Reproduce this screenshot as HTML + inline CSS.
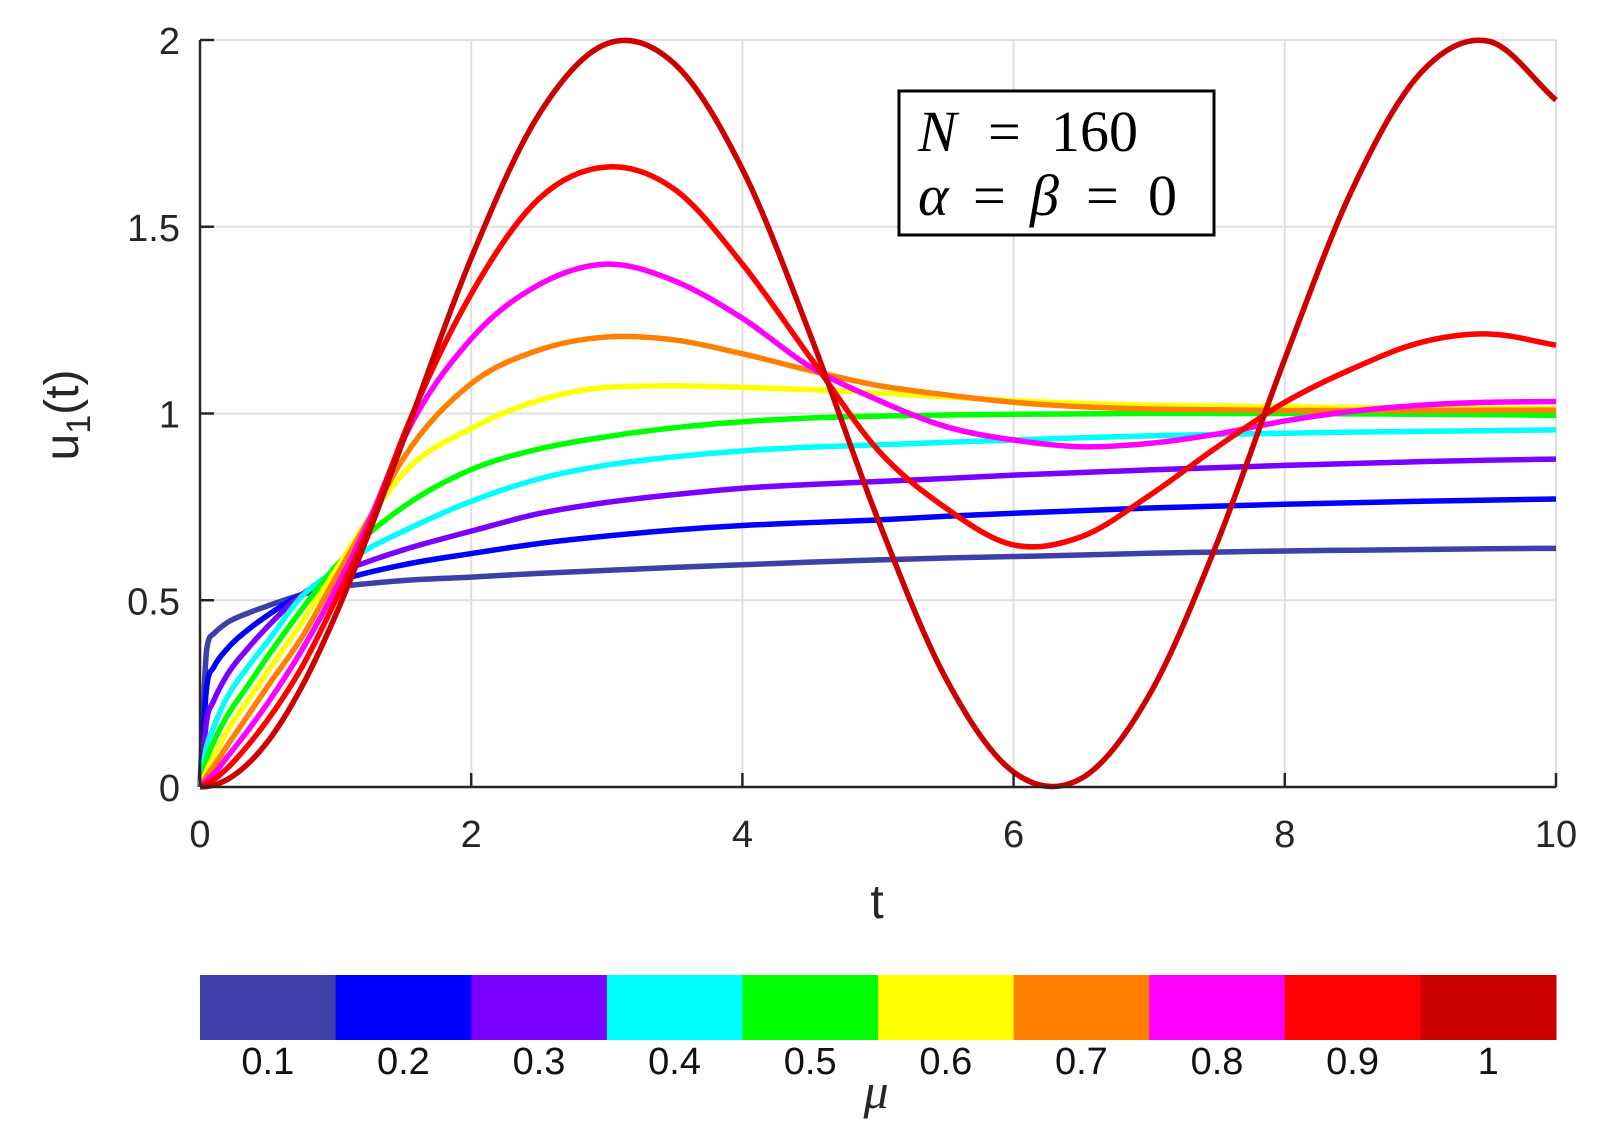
<!DOCTYPE html>
<html><head><meta charset="utf-8"><style>
html,body{margin:0;padding:0;background:#fff;}
svg{display:block;font-family:"Liberation Sans",sans-serif;}
</style></head><body>
<svg id="chart" width="1607" height="1138" viewBox="0 0 1607 1138" xmlns="http://www.w3.org/2000/svg">
<g id="grid"></g>
<g id="series"></g>
<g id="axes"></g>
<g font-family="Liberation Serif,serif" font-size="58">
<rect x="899" y="91" width="315" height="144" fill="#fff" stroke="#000" stroke-width="3"/>
<text y="151"><tspan x="918" font-style="italic">N</tspan><tspan x="988">=</tspan><tspan x="1051">160</tspan></text>
<text y="215"><tspan x="918" font-style="italic">α</tspan><tspan x="973">=</tspan><tspan x="1030" font-style="italic">β</tspan><tspan x="1086">=</tspan><tspan x="1148">0</tspan></text>
</g>
<text x="877" y="918" font-size="48" text-anchor="middle" fill="#262626">t</text>
<text transform="translate(78,415) rotate(-90)" font-size="48" text-anchor="middle" fill="#262626">u<tspan font-size="34" dy="12">1</tspan><tspan dy="-12">(t)</tspan></text>
<g id="colorbar"></g>
<text x="876" y="1108" font-family="Liberation Serif,serif" font-style="italic" font-size="50" text-anchor="middle" fill="#262626">μ</text>
</svg>
<script>
const tVals=[0,0.05,0.1,0.2,0.35,0.5,0.75,1,1.25,1.5,2,2.5,3,3.5,4,4.5,5,5.5,6,6.5,7,7.5,8,8.5,9,9.5,10];
const muLabels=["0.1","0.2","0.3","0.4","0.5","0.6","0.7","0.8","0.9","1"];
const colors=["#3d40a8","#0000ff","#7a00ff","#00ffff","#00ff00","#ffff00","#ff8000","#ff00ff","#ff0000","#cc0000"];
const s01=[0,.37,.41,.44,.465,.485,.515,.535,.545,.553,.562,.572,.58,.588,.595,.602,.608,.613,.617,.621,.626,.629,.632,.634,.636,.638,.639];
const s02=[0,.27,.32,.37,.42,.46,.515,.55,.575,.595,.625,.652,.672,.688,.70,.708,.715,.725,.733,.74,.747,.752,.757,.761,.765,.768,.771];
const s03=[0,.18,.23,.30,.37,.43,.515,.57,.605,.635,.685,.732,.762,.783,.80,.81,.818,.826,.835,.842,.849,.855,.861,.866,.871,.875,.878];
const s04=[0,.11,.16,.24,.32,.39,.51,.58,.64,.685,.765,.825,.862,.884,.90,.91,.916,.923,.929,.935,.94,.944,.947,.95,.952,.954,.956];
const s05=[0,.075,.12,.19,.27,.35,.475,.59,.68,.75,.85,.905,.938,.962,.978,.988,.993,.996,.998,.999,1,1,1,.999,.998,.997,.995];
const s06=[0,.045,.08,.15,.23,.31,.44,.58,.72,.84,.96,1.035,1.07,1.074,1.07,1.064,1.055,1.045,1.034,1.027,1.022,1.02,1.018,1.016,1.015,1.014,1.013];
const s07=[0,.03,.055,.11,.19,.27,.40,.56,.72,.88,1.08,1.17,1.205,1.197,1.16,1.115,1.075,1.05,1.03,1.018,1.012,1.01,1.008,1.008,1.008,1.009,1.009];
const s08=[0,.018,.035,.08,.15,.225,.366,.53,.715,.93,1.20,1.345,1.40,1.355,1.255,1.125,1.036,.965,.929,.911,.92,.945,.98,1.006,1.022,1.03,1.032];
const s09=[0,.01,.02,.05,.11,.18,.32,.50,.70,.94,1.32,1.575,1.66,1.60,1.40,1.15,.902,.747,.648,.67,.78,.91,1.03,1.12,1.19,1.213,1.183];
const s10=[0,.00125,.005,.02,.061,.122,.268,.46,.685,.929,1.416,1.801,1.99,1.936,1.654,1.211,.716,.291,.04,.023,.246,.653,1.146,1.602,1.911,1.997,1.839];
const allSeries=[s01,s02,s03,s04,s05,s06,s07,s08,s09,s10];
const xTicks=[0,2,4,6,8,10];
const yTicks=[0,0.5,1,1.5,2];
const yTickLabels=["0","0.5","1","1.5","2"];

const X0=200,X1=1556,Y0=787,Y1=40;
const sx=v=>X0+(v-0)/(10-0)*(X1-X0);
const sy=v=>Y0-(v-0)/(2-0)*(Y0-Y1);
const NS="http://www.w3.org/2000/svg";
function mk(tag,attrs,parent){const e=document.createElementNS(NS,tag);for(const k in attrs)e.setAttribute(k,attrs[k]);parent.appendChild(e);return e;}
const grid=document.getElementById('grid'),axes=document.getElementById('axes'),ser=document.getElementById('series'),cb=document.getElementById('colorbar');
xTicks.forEach(v=>{const l=mk('line',{x1:sx(v),x2:sx(v),y1:Y1,y2:Y0,stroke:'#dfdfdf','stroke-width':2},grid);
});
yTicks.forEach(v=>{const l=mk('line',{x1:X0,x2:X1,y1:sy(v),y2:sy(v),stroke:'#dfdfdf','stroke-width':2},grid);
});
function smoothPath(xs,ys){const n=xs.length,d=[],m=[];
for(let i=0;i<n-1;i++)d.push((ys[i+1]-ys[i])/(xs[i+1]-xs[i]));
m[0]=d[0];m[n-1]=d[n-2];
for(let i=1;i<n-1;i++){const h0=xs[i]-xs[i-1],h1=xs[i+1]-xs[i];m[i]=(h1*d[i-1]+h0*d[i])/(h0+h1);}
for(let i=0;i<n-1;i++){ if(d[i]===0){continue;}
 const a=m[i]/d[i],b=m[i+1]/d[i]; const s=a*a+b*b;
 if(a>=0&&b>=0&&s>9){const t=3/Math.sqrt(s);m[i]=t*a*d[i];m[i+1]=t*b*d[i];}}
let p='M'+xs[0]+','+ys[0];
for(let i=0;i<n-1;i++){const h=(xs[i+1]-xs[i])/3;p+=` C${xs[i]+h},${ys[i]+m[i]*h} ${xs[i+1]-h},${ys[i+1]-m[i+1]*h} ${xs[i+1]},${ys[i+1]}`;}return p;}
allSeries.forEach((s,i)=>{const xs=tVals.map(sx),ys=s.map(sy);
const p=mk('path',{d:smoothPath(xs,ys),fill:'none',stroke:colors[i],'stroke-width':5.5,'stroke-linejoin':'round'},ser);
});
mk('line',{x1:X0,x2:X0,y1:Y1,y2:Y0,stroke:'#262626','stroke-width':2.5},axes);
mk('line',{x1:X0,x2:X1,y1:Y0,y2:Y0,stroke:'#262626','stroke-width':2.5},axes);
xTicks.forEach(v=>{mk('line',{x1:sx(v),x2:sx(v),y1:Y0,y2:Y0-14,stroke:'#262626','stroke-width':2.5},axes);
const t=mk('text',{x:sx(v),y:847,'font-size':38,'text-anchor':'middle',fill:'#262626'},axes);t.textContent=v;
});
yTicks.forEach((v,i)=>{mk('line',{x1:X0,x2:X0+14,y1:sy(v),y2:sy(v),stroke:'#262626','stroke-width':2.5},axes);
const t=mk('text',{x:X0-20,y:sy(v)+14,'font-size':38,'text-anchor':'end',fill:'#262626'},axes);t.textContent=yTickLabels[i];
});
const w=(X1-X0)/colors.length;
colors.forEach((c,i)=>{const r=mk('rect',{x:X0+i*w,y:975,width:w+0.5,height:65,fill:c},cb);

const t=mk('text',{x:X0+(i+0.5)*w,y:1074,'font-size':38,'text-anchor':'middle',fill:'#111'},cb);t.textContent=muLabels[i];
});
</script>
</body></html>
